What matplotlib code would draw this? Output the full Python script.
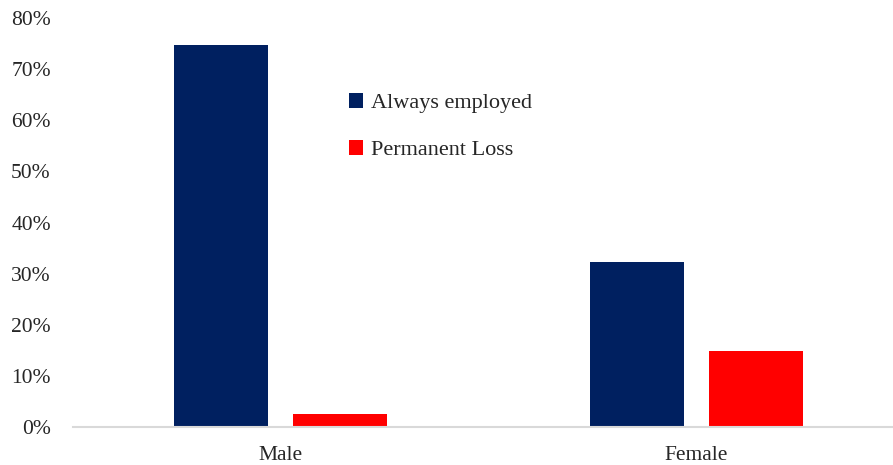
import matplotlib
matplotlib.use("Agg")
import matplotlib.pyplot as plt
from matplotlib.ticker import PercentFormatter
import numpy as np

categories = ["Male", "Female"]
always_employed = [74.8, 32.3]
permanent_loss = [2.5, 14.9]
series_names = ["Always employed", "Permanent Loss"]
yticks = [0, 10, 20, 30, 40, 50, 60, 70, 80]

plt.rcParams["font.family"] = ["Liberation Serif", "DejaVu Serif"]

W, H = 893, 465
fig = plt.figure(figsize=(W / 100, H / 100), dpi=100)
# plot area runs off the right edge of the canvas
left, right, bottom, top = 73, 904, 427, 18
ax = fig.add_axes([left / W, (H - bottom) / H, (right - left) / W, (bottom - top) / H])

x = np.arange(len(categories))
width = 0.226
offset = 0.143
ax.bar(x - offset, always_employed, width, color="#002060", label=series_names[0])
ax.bar(x + offset, permanent_loss, width, color="#ff0000", label=series_names[1])

ax.set_xlim(-0.5, len(categories) - 0.5)
ax.set_ylim(0, 80)
ax.set_yticks(yticks)
ax.yaxis.set_major_formatter(PercentFormatter(decimals=0))
ax.set_xticks(x)
ax.set_xticklabels(categories)

for s in ["top", "right", "left"]:
    ax.spines[s].set_visible(False)
ax.spines["bottom"].set_color("#d9d9d9")
ax.spines["bottom"].set_linewidth(1.5)
ax.tick_params(axis="both", length=0, labelsize=15.5, colors="#262626")
ax.tick_params(axis="y", pad=16)
ax.tick_params(axis="x", pad=14)

leg = ax.legend(loc="upper left", bbox_to_anchor=(349 / W, (H - 93) / H),
                bbox_transform=fig.transFigure, frameon=False, fontsize=16,
                handlelength=0.65, handleheight=0.65, handletextpad=0.35,
                labelspacing=1.2, borderaxespad=0, borderpad=0)
for t in leg.get_texts():
    t.set_color("#262626")

fig.savefig("out.png", dpi=100)
